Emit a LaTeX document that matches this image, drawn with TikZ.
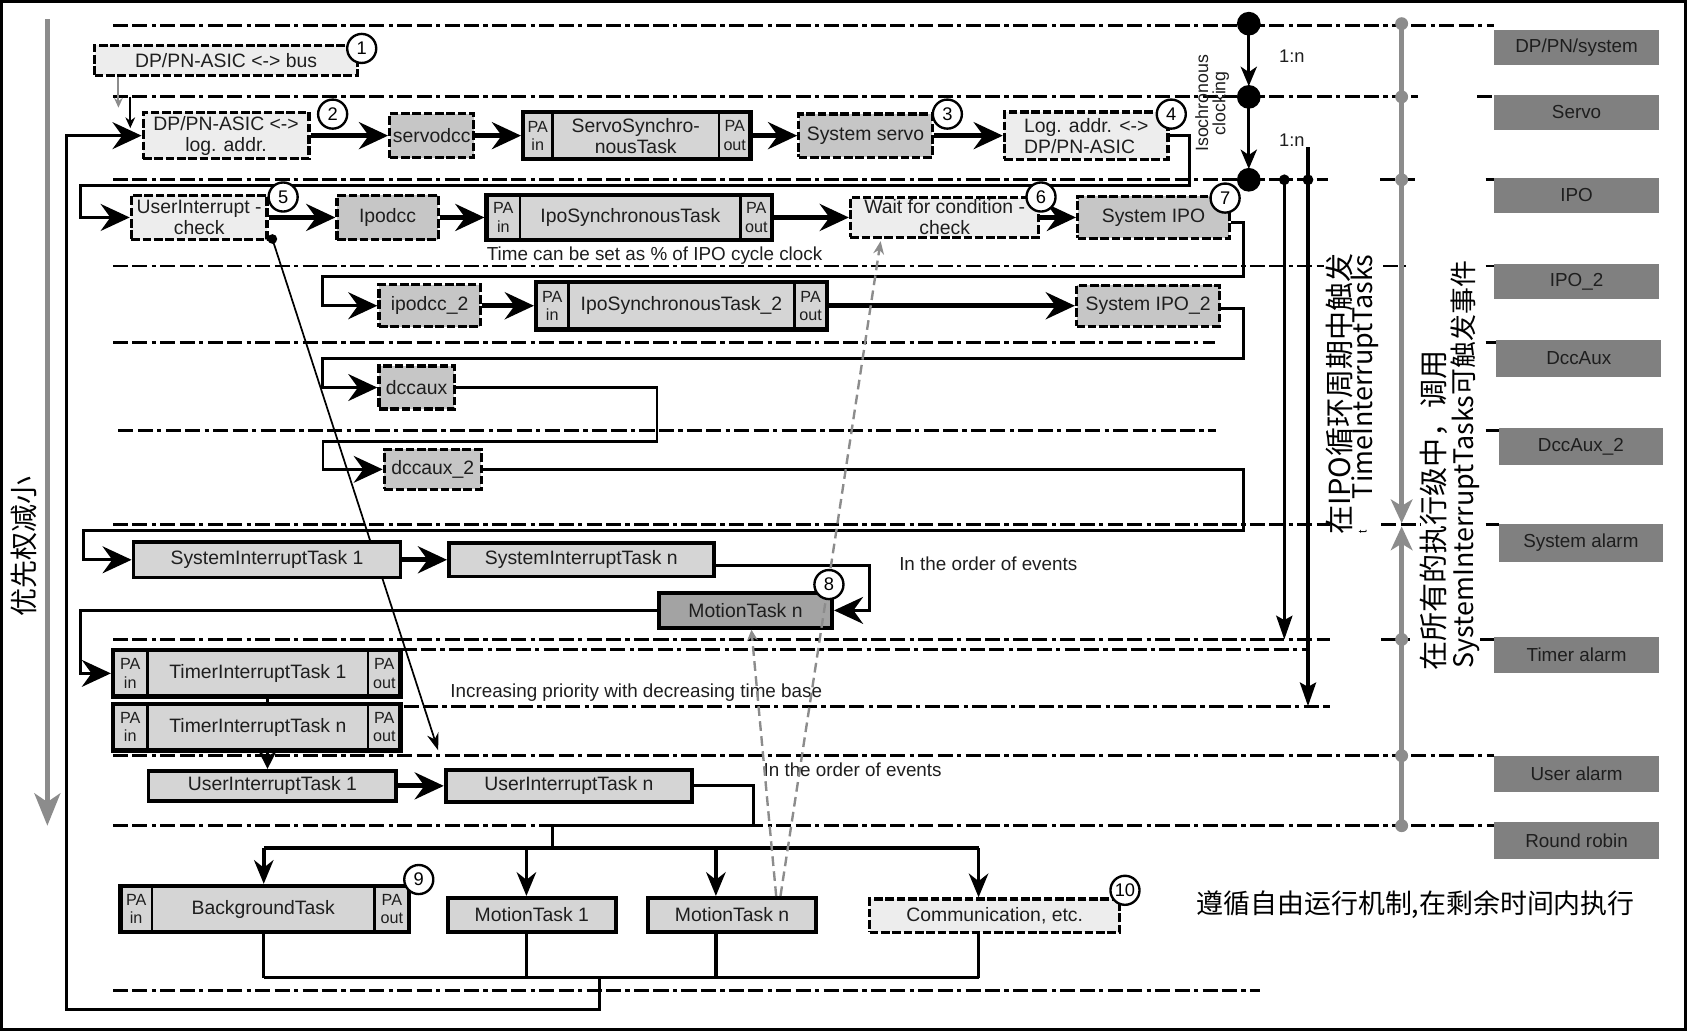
\documentclass[tikz,border=0pt]{standalone}
\usepackage{fontspec}
\setmainfont{Liberation Sans}
\newfontfamily\cjk{Noto Sans CJK SC}
\usetikzlibrary{arrows.meta}
\pgfdeclarelayer{bgfill}
\pgfdeclarelayer{behind}
\pgfsetlayers{bgfill,behind,main}
\definecolor{lightfill}{HTML}{EDEDED}
\definecolor{grayfill}{HTML}{C6C6C6}
\definecolor{solidfill}{HTML}{D5D5D5}
\definecolor{darkfill}{HTML}{A3A3A3}
\definecolor{labgray}{HTML}{808080}
\definecolor{midgray}{HTML}{8C8C8C}
\definecolor{txt}{HTML}{1E1E1E}
\newcommand\fs[2]{\fontsize{#1pt}{#2pt}\selectfont}
\tikzset{
 lvl/.style={line width=2.6pt, dash pattern=on 14pt off 4pt on 14pt off 4pt on 4pt off 4pt},
 box/.style={draw, line width=3pt, inner sep=0pt, align=center, font=\fs{18}{19.5}, text=txt},
 dbox/.style={box, dash pattern=on 8pt off 2.5pt, fill=lightfill},
 dgbox/.style={box, dash pattern=on 8pt off 2.5pt, fill=grayfill},
 sbox/.style={box, line width=3.5pt, fill=solidfill},
 pacell/.style={draw, line width=2.4pt, fill=solidfill, inner sep=0pt, align=center, font=\fs{15}{17}, text=txt},
 pamain/.style={draw, line width=2.4pt, fill=solidfill, inner sep=0pt, align=center, font=\fs{18}{19.5}, text=txt},
 paouter/.style={draw, line width=4pt, inner sep=0pt},
 num/.style={circle, draw, line width=2.2pt, fill=white, minimum size=27pt, inner sep=0pt, font=\fs{17}{17}},
 bighead/.style={-{Stealth[length=27pt,width=25pt,inset=9pt]}},
 flow/.style={line width=4.8pt, bighead},
 route/.style={line width=2.8pt},
 downarr/.style={line width=3.5pt, -{Stealth[length=22pt,width=18pt,inset=7pt]}},
 lab/.style={fill=labgray, minimum width=153pt, minimum height=33pt, inner sep=0pt, font=\fs{17.5}{17.5}, text=txt},
 plain/.style={font=\fs{17.5}{19}, text=txt, inner sep=0pt},
 gdash/.style={draw=midgray, line width=2.2pt, dash pattern=on 9pt off 5pt},
}
\newcommand\PAbox[8]{%
 \node[pacell, minimum width={(#3-#2)*1pt}, minimum height={(#7-#6)*1pt}] (#1in) at ({(#2+#3)/2},{(#6+#7)/2}) {PA\\in};
 \node[pacell, minimum width={(#5-#4)*1pt}, minimum height={(#7-#6)*1pt}] (#1out) at ({(#4+#5)/2},{(#6+#7)/2}) {PA\\out};
 \node[pamain, minimum width={(#4-#3)*1pt}, minimum height={(#7-#6)*1pt}] (#1m) at ({(#3+#4)/2},{(#6+#7)/2}) {#8};
 \node[paouter, minimum width={(#5-#2)*1pt}, minimum height={(#7-#6)*1pt}] (#1) at ({(#2+#5)/2},{(#6+#7)/2}) {};
}
\begin{document}
\begin{tikzpicture}[x=1pt,y=-1pt]
\useasboundingbox (0,0) rectangle (1568,958);
\begin{pgfonlayer}{bgfill}
\fill[white] (0,0) rectangle (1568,958);
\end{pgfonlayer}
\draw[line width=3pt] (1.5,1.5) rectangle (1566,956);

% ---------- level lines ----------
\begin{pgfonlayer}{behind}
\draw[lvl] (105,24) -- (1388,24);
\draw[lvl] (105,90) -- (1317,90);  \draw[lvl] (1372,90) -- (1388,90);
\draw[lvl] (105,167) -- (1234,167); \draw[lvl] (1282,167) -- (1317,167); \draw[lvl] (1380,167) -- (1388,167);
\draw[lvl] (105,247) -- (1230,247); \draw[lvl] (1285,247) -- (1306,247); \draw[lvl] (1380,247) -- (1390,247);
\draw[lvl] (105,318) -- (1129,318); \draw[lvl] (1380,318) -- (1390,318);
\draw[lvl] (110,400) -- (1130,400); \draw[lvl] (1380,400) -- (1392,400);
\draw[lvl] (105,487) -- (1235,487); \draw[lvl] (1283,487) -- (1320,487); \draw[lvl] (1380,487) -- (1392,487);
\draw[lvl] (105,594) -- (1235,594); \draw[lvl] (1283,594) -- (1310,594); \draw[lvl] (1375,594) -- (1388,594);
\draw[lvl] (373,603) -- (1215,603);
\draw[lvl] (375,656) -- (1235,656);
\draw[lvl] (105,702) -- (1388,702);
\draw[lvl] (105,767) -- (1388,767);
\draw[lvl] (105,920) -- (1170,920);
% diagonal user-interrupt trigger
\coordinate (dg0) at (253,222);
\coordinate (dg1) at (407,697);
\fill (dg0) circle (4.5);
\draw[line width=1.6pt, -{Stealth[length=16pt,width=11pt]}] (dg0) -- (dg1);
\end{pgfonlayer}

% ---------- left priority arrow ----------
\draw[draw=midgray, line width=4.5pt, -{Stealth[length=30pt,width=24pt,inset=8pt]}] (44,18) -- (44,767);
\node[rotate=90, font=\cjk\fs{26}{28}, inner sep=0pt] (prio) at (22,508) {优先权减小};

% ---------- boxes ----------
\node[dbox, minimum width=244pt, minimum height=28pt] (B1) at (210,56) {DP/PN-ASIC <-> bus};
\node[dbox, minimum width=154pt, minimum height=43pt] (B2) at (210,126) {DP/PN-ASIC <->\\log. addr.};
\node[dgbox, minimum width=78pt, minimum height=41pt] (sdcc) at (401,126) {servodcc};
\PAbox{sst}{486}{513}{668}{697}{104}{148}{ServoSynchro-\\nousTask}
\node[dgbox, minimum width=124pt, minimum height=40pt] (ssv) at (804,126) {System servo};
\node[dbox, minimum width=152pt, minimum height=44pt, align=left] (lad) at (1009,126) {Log. addr. <->\\DP/PN-ASIC};

\node[dbox, minimum width=126pt, minimum height=41pt] (uic) at (185,202) {UserInterrupt -\\check};
\node[dgbox, minimum width=94pt, minimum height=41pt] (ipd) at (360,202) {Ipodcc};
\PAbox{ist}{452}{483}{688}{717}{181}{223}{IpoSynchronousTask}
\node[dbox, minimum width=175pt, minimum height=37pt] (wfc) at (877.5,202) {Wait for condition -\\check};
\node[dgbox, minimum width=141pt, minimum height=39pt] (sipo) at (1071.5,202) {System IPO};
\node[plain] (tcs) at (608,237) {Time can be set as \% of IPO cycle clock};

\node[dgbox, minimum width=94pt, minimum height=39pt] (ipd2) at (399,284) {ipodcc\_2};
\PAbox{ist2}{498}{528}{738}{768}{262}{306}{IpoSynchronousTask\_2}
\node[dgbox, minimum width=133pt, minimum height=38pt] (sipo2) at (1066.5,284) {System IPO\_2};

\node[dgbox, minimum width=70pt, minimum height=40pt] (dcc) at (387,360) {dccaux};
\node[dgbox, minimum width=90pt, minimum height=37pt] (dcc2) at (402,436) {dccaux\_2};

\node[sbox, minimum width=248pt, minimum height=33pt] (sit1) at (248,520) {SystemInterruptTask 1};
\node[sbox, minimum width=246pt, minimum height=31pt] (sitn) at (540,520) {SystemInterruptTask n};
\node[plain] (ord1) at (918,524) {In the order of events};
\node[sbox, fill=darkfill, minimum width=161pt, minimum height=33pt] (mt8) at (692.5,567) {MotionTask n};

\PAbox{tit1}{105}{137}{342}{372}{604}{647}{TimerInterruptTask 1}
\PAbox{titn}{105}{137}{342}{372}{654}{697}{TimerInterruptTask n}
\node[plain] (incp) at (591,643) {Increasing priority with decreasing time base};

\node[sbox, minimum width=230pt, minimum height=28pt] (uit1) at (253,730) {UserInterruptTask 1};
\node[sbox, minimum width=229pt, minimum height=30pt] (uitn) at (528.5,730) {UserInterruptTask n};
\node[plain] (ord2) at (792,715) {In the order of events};

\PAbox{bgt}{112}{141}{348}{380}{823}{866}{BackgroundTask}
\node[sbox, minimum width=156pt, minimum height=32pt] (mt1) at (494,850) {MotionTask 1};
\node[sbox, minimum width=156pt, minimum height=32pt] (mtn) at (680,850) {MotionTask n};
\node[dbox, minimum width=232pt, minimum height=31pt] (com) at (924,850.5) {Communication, etc.};

% ---------- level labels ----------
\node[lab, minimum height=32pt] (lDP) at (1464.5,44) {DP/PN/system};
\node[lab] (lSV) at (1464.5,104.5) {Servo};
\node[lab] (lIPO) at (1464.5,181.5) {IPO};
\node[lab] (lIPO2) at (1464.5,261.5) {IPO\_2};
\node[lab, minimum height=34pt] (lDA) at (1466.5,333) {DccAux};
\node[lab, minimum height=34pt] (lDA2) at (1468.5,415) {DccAux\_2};
\node[lab, minimum height=35pt] (lSA) at (1468.5,504.5) {System alarm};
\node[lab] (lTA) at (1464.5,608.5) {Timer alarm};
\node[lab, minimum height=34pt] (lUA) at (1464.5,719) {User alarm};
\node[lab, minimum height=34pt] (lRR) at (1464.5,781) {Round robin};

% ---------- flow arrows ----------
\draw[flow] (B2.east) -- (sdcc.west);
\draw[flow] (sdcc.east) -- (sst.west);
\draw[flow] (sst.east) -- (ssv.west);
\draw[flow] (ssv.east) -- (lad.west);
\draw[flow] (uic.east) -- (ipd.west);
\draw[flow] (ipd.east) -- (ist.west);
\draw[flow] (ist.east) -- (wfc.west);
\draw[flow] (wfc.east) -- (sipo.west);
\draw[flow] (ipd2.east) -- (ist2.west);
\draw[flow] (ist2.east) -- (sipo2.west);
\draw[flow] (sit1.east) -- (sitn.west);
\draw[flow] (uit1.east) -- (uitn.west);

% ---------- routing lines ----------
\draw[route, bighead] (lad.east) -- (1105,126) -- (1105,172) -- (75,172) -- (75,202) -- (uic.west);
\draw[route, bighead] ([yshift=-5pt]sipo.east) -- (1155,207) -- (1155,257) -- (300,257) -- (300,284) -- (ipd2.west);
\draw[route, bighead] ([yshift=-3pt]sipo2.east) -- (1155,287) -- (1155,333) -- (300,333) -- (300,360) -- (dcc.west);
\draw[line width=2.2pt, bighead] (dcc.east) -- (610,360) -- (610,410) -- (300,410) -- (300,436) -- (dcc2.west);
\draw[route, bighead] (dcc2.east) -- (1155,436) -- (1155,493) -- (78,493) -- (78,520) -- (sit1.west);
\draw[route, bighead] ([yshift=-5pt]sitn.east) -- (808,525) -- (808,567) -- (mt8.east);
\draw[route, bighead] (mt8.west) -- (75,567) -- (75,625.5) -- (tit1.west);
\draw[route] ([xshift=10pt]tit1.south) -- ([xshift=10pt]titn.north);
\draw[route, -{Stealth[length=16pt,width=16pt,inset=4pt]}] ([xshift=10pt]titn.south) -- ([xshift=10pt]titn.south |- uit1.north);
\draw[route] (uitn.east) -- (700,730) -- (700,767) -- (513,767) -- (513,788);
\coordinate (busL) at (245,788);
\coordinate (busR) at (909,788);
\draw[line width=3.5pt] (busL) -- (busR);
\draw[downarr] (busL) -- (245,788 |- bgt.north);
\draw[downarr] (489,788) -- (489,788 |- mt1.north);
\draw[downarr] (665,788) -- (665,788 |- mtn.north);
\draw[downarr] (busR) -- (909,788 |- com.north);
\draw[line width=3pt] (245,0 |- bgt.south) -- (245,908);
\draw[line width=3pt] (489,0 |- mt1.south) -- (489,908);
\draw[line width=3pt] (665,0 |- mtn.south) -- (665,908);
\draw[line width=3pt] (909,0 |- com.south) -- (909,908);
\draw[line width=3.5pt] (245,908) -- (909,908);
\draw[route, bighead] (557,908) -- (557,938) -- (62,938) -- (62,126) -- (B2.west);

% small arrows at top left
\draw[draw=midgray, line width=1.8pt, -{Stealth[length=9pt,width=8pt]}] (110,0 |- B1.south) -- (110,100);
\draw[line width=1.6pt, -{Stealth[length=10pt,width=9pt]}] (121,90) -- (121,119);

% gray dashed triggers
\draw[gdash, -{Stealth[length=12pt,width=10pt]}] (725,0 |- mtn.north) -- (818,224);
\draw[gdash, -{Stealth[length=10pt,width=10pt]}] (721,0 |- mtn.north) -- (698,585);

% ---------- clocking on the right ----------
\fill (1160,22) circle (11);
\fill (1160,90) circle (11);
\fill (1160,167) circle (11);
\draw[line width=3pt, -{Stealth[length=18pt,width=15pt,inset=5pt]}] (1160,22) -- (1160,80);
\draw[line width=3pt, -{Stealth[length=18pt,width=15pt,inset=5pt]}] (1160,90) -- (1160,157);
\node[plain, font=\fs{17}{17}] (r1) at (1200,52) {1:n};
\node[plain, font=\fs{17}{17}] (r2) at (1200,130) {1:n};
\node[rotate=90, align=center, font=\fs{16.5}{16}, inner sep=0pt, text=txt] (iso) at (1126,96) {Isochronous\\clocking};
\fill (1193,167) circle (5);
\fill (1215,167) circle (5);
\draw[line width=3pt, -{Stealth[length=22pt,width=15pt,inset=4pt]}] (1193,167) -- (1193,594);
\draw[line width=3pt, -{Stealth[length=22pt,width=15pt,inset=4pt]}] (1215,137) -- (1215,656);

% gray system line
\draw[draw=midgray, line width=4.5pt, -{Stealth[length=22pt,width=20pt,inset=6pt]}] (1302,22) -- (1302,486);
\draw[draw=midgray, line width=4.5pt, -{Stealth[length=22pt,width=20pt,inset=6pt]}] (1302,767) -- (1302,489);
\foreach \yy in {22,90,167,594,702,767} \fill[midgray] (1302,\yy) circle (6);

% rotated notes
\node[rotate=90, font=\cjk\fs{27}{29}, inner sep=0pt] (ipoA) at (1244,366) {在IPO循环周期中触发};
\node[rotate=90, font=\cjk\fs{25}{27}, inner sep=0pt] (ipoB) at (1268,350) {TimeInterruptTasks};
\node[rotate=90, font=\fs{11}{11}, inner sep=0pt] (tmark) at (1266,494) {t};
\node[rotate=90, anchor=west, font=\cjk\fs{27}{29}, inner sep=0pt] (allA) at (1332,623) {在所有的执行级中，调用};
\node[rotate=90, anchor=west, font=\cjk\fs{25}{27}, inner sep=0pt] (allB) at (1361,621) {SystemInterruptTasks可触发事件};
\node[font=\cjk\fs{25}{27}, inner sep=0pt] (free) at (1315,840) {遵循自由运行机制,在剩余时间内执行};

% ---------- numbers ----------
\node[num] (n1) at (336,45) {1};
\node[num] (n2) at (309,106) {2};
\node[num] (n3) at (880,106) {3};
\node[num] (n4) at (1088,106) {4};
\node[num] (n5) at (263,183) {5};
\node[num] (n6) at (967,183) {6};
\node[num] (n7) at (1138,184) {7};
\node[num] (n8) at (770,543) {8};
\node[num] (n9) at (389,817) {9};
\node[num] (n10) at (1045,827) {10};
\end{tikzpicture}
\end{document}
